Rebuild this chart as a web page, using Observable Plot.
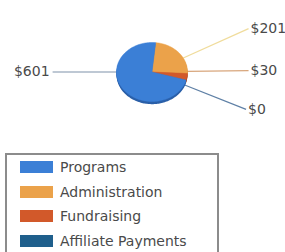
<!DOCTYPE html>
<html><head><meta charset="utf-8">
<script src="https://cdn.jsdelivr.net/npm/d3@7"></script>
<script src="https://cdn.jsdelivr.net/npm/@observablehq/plot@0.6"></script>
<style>
html,body{margin:0;padding:0;background:#fff;}
body{width:285px;height:252px;overflow:hidden;position:relative;font-family:"DejaVu Sans",Verdana,sans-serif;}
#chart{position:absolute;left:0;top:0;}
#legend{position:absolute;left:5px;top:153px;width:214px;height:110px;border:2px solid #8c8c8c;border-bottom:none;box-sizing:border-box;}
.sw{position:absolute;left:13px;width:33px;height:12px;}
.lb{position:absolute;left:53px;font-size:14px;color:#4a4a4a;white-space:nowrap;line-height:14px;}
</style></head>
<body>
<div id="chart"></div>
<div id="legend"></div>
<script>
// data
const categories = ["Programs", "Administration", "Fundraising", "Affiliate Payments"];
const values = [601, 201, 30, 0];
const valueLabels = ["$601", "$201", "$30", "$0"];
const colors = ["#3b7fd6", "#eba24a", "#d2592a", "#1f5f8c"];
const rimColors = ["#2a5fa8", "#b8762c", "#9c3f1c", "#15456a"];
const leaderColors = ["#a9b6c6", "#f0dc9c", "#d8a67c", "#5f80a6"];
// layout (label anchor points in pie-radius units)
const labelPos = [[-2.8, 0], [2.72, 1.47], [2.72, 0.05], [2.65, -1.27]];
const startDeg = 6;

// pie geometry through d3.pie, drawn in Plot's x/y scales
const order = [1, 2, 3, 0]; // Administration, Fundraising, Affiliate, Programs
const start = startDeg * Math.PI / 180;
const arcs = d3.pie().sort(null).value(i => values[i]).startAngle(start).endAngle(start + 2 * Math.PI)(order);
function slicePoints(a, dy) {
  const pts = [{x: 0, y: dy}];
  const n = Math.max(2, Math.ceil((a.endAngle - a.startAngle) / 0.03));
  for (let k = 0; k <= n; k++) {
    const t = a.startAngle + (a.endAngle - a.startAngle) * k / n;
    pts.push({x: Math.sin(t), y: Math.cos(t) + dy});
  }
  pts.push({x: 0, y: dy});
  return pts;
}
const rimMarks = [], topMarks = [];
for (const a of arcs) {
  if (a.endAngle - a.startAngle <= 0) continue;
  const i = a.data;
  for (let s = 1; s <= 3; s++) rimMarks.push(Plot.line(slicePoints(a, -0.03 * s), {x: "x", y: "y", fill: rimColors[i], stroke: "none"}));
  topMarks.push(Plot.line(slicePoints(a, 0), {x: "x", y: "y", fill: colors[i], stroke: colors[i], strokeWidth: 0.5}));
}
const leaders = categories.map((c, i) => {
  const [lx, ly] = labelPos[i];
  const ang = Math.atan2(lx, ly);
  return {x1: Math.sin(ang), y1: Math.cos(ang), x2: lx, y2: ly, color: leaderColors[i], label: valueLabels[i], side: lx < 0 ? "end" : "start"};
});

const plot = Plot.plot({
  width: 285, height: 150,
  margin: 0,
  x: {domain: [-1, 1], range: [116, 187], axis: null},
  y: {domain: [-1, 1], range: [101, 42], axis: null},
  style: {background: "transparent", overflow: "visible"},
  marks: [
    Plot.link(leaders, {x1: "x1", y1: "y1", x2: "x2", y2: "y2", stroke: d => d.color, strokeWidth: 1.3}),
    ...rimMarks,
    ...topMarks,
    Plot.text(leaders.filter(d => d.side === "end"), {x: "x2", y: "y2", text: "label", textAnchor: "end", dx: -3, fontSize: 14, fill: "#4a4a4a", fontFamily: "DejaVu Sans, Verdana, sans-serif"}),
    Plot.text(leaders.filter(d => d.side === "start"), {x: "x2", y: "y2", text: "label", textAnchor: "start", dx: 2, fontSize: 14, fill: "#4a4a4a", fontFamily: "DejaVu Sans, Verdana, sans-serif"})
  ]
});
document.getElementById("chart").appendChild(plot);

const lg = document.getElementById("legend");
categories.forEach((c, i) => {
  const top = 5 + i * 24.7;
  const sw = document.createElement("div");
  sw.className = "sw"; sw.style.top = (top + 1) + "px"; sw.style.background = colors[i];
  const lb = document.createElement("div");
  lb.className = "lb"; lb.style.top = top + "px"; lb.textContent = c;
  lg.appendChild(sw); lg.appendChild(lb);
});
</script>
</body></html>
